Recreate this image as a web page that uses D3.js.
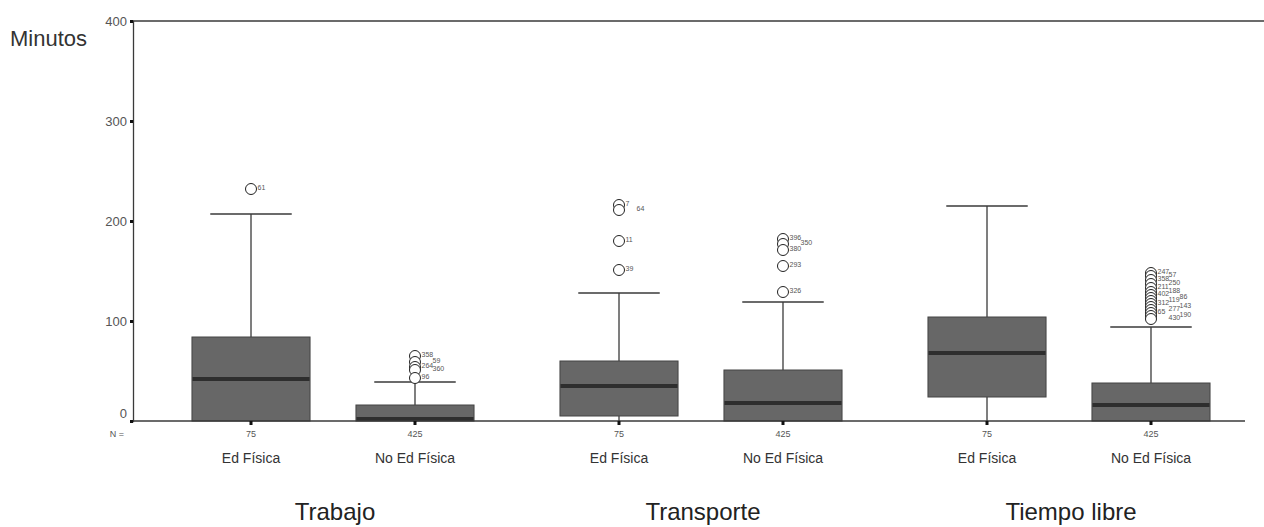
<!DOCTYPE html>
<html>
<head>
<meta charset="utf-8">
<script src="https://cdn.jsdelivr.net/npm/d3@7"></script>
<style>
  body { margin: 0; background: #fff; }
  svg { display: block; font-family: "Liberation Sans", Arial, sans-serif; }
</style>
</head>
<body>
<svg id="chart" width="1264" height="527"></svg>
<script>
// Activity groups and the two student categories inside each group
const groups = ["Trabajo", "Transporte", "Tiempo libre"];
const categories = ["Ed Física", "No Ed Física"];
const counts = [75, 425];
const yTicks = [0, 100, 200, 300, 400];

// One entry per box, in drawing order
const boxGroup    = ["Trabajo", "Trabajo", "Transporte", "Transporte", "Tiempo libre", "Tiempo libre"];
const boxCategory = ["Ed Física", "No Ed Física", "Ed Física", "No Ed Física", "Ed Física", "No Ed Física"];
const whiskerLow  = [0, 0, 0, 0, 0, 0];
const q1          = [0, 0, 5, 0, 24, 0];
const median      = [42, 0, 35, 18, 68, 16];
const q3          = [84, 16, 60, 51, 104, 38];
const whiskerHigh = [207, 39, 128, 119, 215, 94];

// Outlying cases: box index, minutes, case number
const outlierBox   = [0,
                      1, 1, 1, 1, 1,
                      2, 2, 2, 2,
                      3, 3, 3, 3, 3,
                      5, 5, 5, 5, 5, 5, 5, 5, 5, 5, 5, 5, 5, 5, 5];
const outlierValue = [232,
                      65, 59, 54, 51, 43,
                      216, 211, 180, 151,
                      182, 177, 171, 155, 129,
                      148, 145, 141, 137, 133, 129, 126, 123, 120, 117, 114, 111, 108, 105, 102];
const outlierCase  = ["61",
                      "358", "59", "264", "360", "96",
                      "7", "64", "11", "39",
                      "396", "350", "380", "293", "326",
                      "247", "57", "358", "250", "211", "188", "402", "86", "119", "312", "143", "277", "65", "190", "430"];

const boxes = boxGroup.map((g, i) => ({
  group: g, category: boxCategory[i],
  low: whiskerLow[i], q1: q1[i], median: median[i], q3: q3[i], high: whiskerHigh[i]
}));
const outliers = outlierBox.map((b, i) => ({ box: boxes[b], boxIndex: b, value: outlierValue[i], id: outlierCase[i] }));

const svg = d3.select("#chart");

const axisLeftX = 133, axisRightX = 1245;
const y = d3.scaleLinear().domain([0, 400]).range([421, 21]);

const xGroup = d3.scaleBand().domain(groups).range([149, 1253]).paddingInner(0).paddingOuter(0);
const xCat = d3.scaleBand().domain(categories).range([0, xGroup.bandwidth()])
  .paddingInner(0.28).paddingOuter(0.262);

const cx = d => xGroup(d.group) + xCat(d.category) + xCat.bandwidth() / 2;
const boxW = xCat.bandwidth();
const capW = boxW * 0.69;

const lineColor = "#3a3a3a";

// Frame: top rule and y axis
svg.append("line")
  .attr("x1", axisLeftX).attr("x2", 1264)
  .attr("y1", y(400)).attr("y2", y(400))
  .attr("stroke", lineColor).attr("stroke-width", 1.3);

const yAxis = svg.append("g")
  .attr("transform", `translate(${axisLeftX},0)`)
  .call(d3.axisLeft(y).tickValues(yTicks).tickSize(3).tickPadding(3).tickFormat(d3.format("d")));
yAxis.select(".domain").attr("stroke", lineColor).attr("stroke-width", 1.3);
yAxis.selectAll(".tick line").attr("stroke", "#111").attr("stroke-width", 3);
yAxis.selectAll(".tick text")
  .attr("fill", "#555").attr("font-size", 13)
  .attr("font-family", "Liberation Sans, Arial, sans-serif")
  .attr("dy", d => d === 0 ? "-0.3em" : "0.32em");

svg.append("text")
  .attr("x", 10).attr("y", 46)
  .attr("fill", "#333").attr("font-size", 22)
  .text("Minutos");

// Whiskers
const bg = svg.append("g");
bg.selectAll("line.stem").data(boxes).join("line")
  .attr("x1", cx).attr("x2", cx)
  .attr("y1", d => y(d.high)).attr("y2", d => y(d.low))
  .attr("stroke", lineColor).attr("stroke-width", 1.3);
bg.selectAll("line.cap").data(boxes).join("line")
  .attr("x1", d => cx(d) - capW / 2).attr("x2", d => cx(d) + capW / 2)
  .attr("y1", d => y(d.high)).attr("y2", d => y(d.high))
  .attr("stroke", lineColor).attr("stroke-width", 1.3);

// Boxes
bg.selectAll("rect").data(boxes).join("rect")
  .attr("x", d => cx(d) - boxW / 2)
  .attr("width", boxW)
  .attr("y", d => y(d.q3))
  .attr("height", d => y(d.q1) - y(d.q3))
  .attr("fill", "#676767")
  .attr("stroke", "#444").attr("stroke-width", 1);

// Medians
bg.selectAll("line.med").data(boxes).join("line")
  .attr("x1", d => cx(d) - boxW / 2 + 0.5).attr("x2", d => cx(d) + boxW / 2 - 0.5)
  .attr("y1", d => Math.min(y(d.median), y(0) - 2)).attr("y2", d => Math.min(y(d.median), y(0) - 2))
  .attr("stroke", "#2e2e2e").attr("stroke-width", 4);

// Bottom axis
svg.append("line")
  .attr("x1", axisLeftX).attr("x2", axisRightX)
  .attr("y1", y(0)).attr("y2", y(0))
  .attr("stroke", lineColor).attr("stroke-width", 1.3);

svg.selectAll("rect.xtick").data(boxes).join("rect")
  .attr("x", d => cx(d) - 1.5).attr("y", y(0))
  .attr("width", 3).attr("height", 4)
  .attr("fill", "#111");

// N counts
svg.append("text")
  .attr("x", 124).attr("y", 437)
  .attr("text-anchor", "end")
  .attr("fill", "#555").attr("font-size", 9)
  .text("N =");
svg.selectAll("text.n").data(boxes).join("text")
  .attr("x", cx).attr("y", 437)
  .attr("text-anchor", "middle")
  .attr("fill", "#555").attr("font-size", 9)
  .text(d => counts[categories.indexOf(d.category)]);

// Category labels
svg.selectAll("text.cat").data(boxes).join("text")
  .attr("x", cx).attr("y", 463)
  .attr("text-anchor", "middle")
  .attr("fill", "#333").attr("font-size", 14)
  .text(d => d.category);

// Group labels
svg.selectAll("text.grp").data(groups).join("text")
  .attr("x", d => xGroup(d) + xGroup.bandwidth() / 2 + 2)
  .attr("y", 520)
  .attr("text-anchor", "middle")
  .attr("fill", "#222").attr("font-size", 24)
  .text(d => d);

// Outliers
const og = svg.append("g");
og.selectAll("circle").data(outliers).join("circle")
  .attr("cx", d => cx(d.box)).attr("cy", d => y(d.value))
  .attr("r", 5.5)
  .attr("fill", "#fff").attr("stroke", "#222").attr("stroke-width", 1);

// Case labels: stack close neighbours into side-by-side columns
const labelSize = 7, labelGap = 6.5, colW = 11;
d3.groups(outliers, d => d.boxIndex).forEach(([, list]) => {
  const lastY = [];
  list.slice().sort((a, b) => b.value - a.value).forEach(d => {
    const ly = y(d.value);
    let col = 0;
    while (lastY[col] !== undefined && ly - lastY[col] < labelGap) col++;
    lastY[col] = ly;
    d.col = col;
  });
});
og.selectAll("text").data(outliers).join("text")
  .attr("x", d => cx(d.box) + 6.5 + d.col * colW)
  .attr("y", d => y(d.value) + 1)
  .attr("fill", "#555").attr("font-size", labelSize)
  .text(d => d.id);
</script>
</body>
</html>
